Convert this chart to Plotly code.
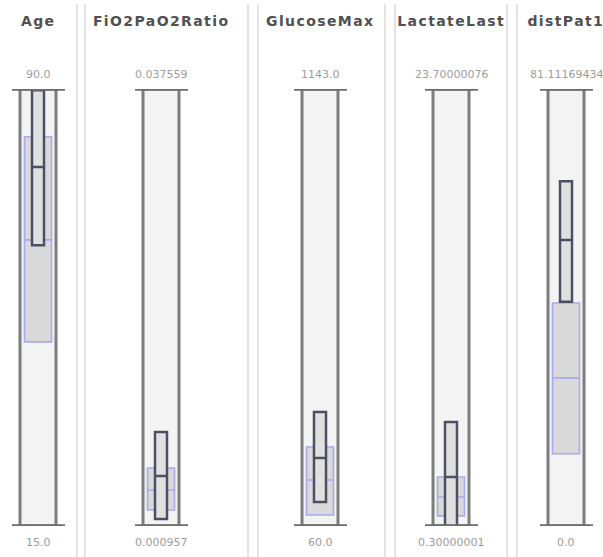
import json
import plotly.graph_objects as go

# ---------------- data ----------------
columns = ["Age", "FiO2PaO2Ratio", "GlucoseMax", "LactateLast", "distPat1"]
axis_min = [15.0, 0.000957, 60.0, 0.30000001, 0.0]
axis_max = [90.0, 0.037559, 1143.0, 23.70000076, 81.11169434]
min_labels = ["15.0", "0.000957", "60.0", "0.30000001", "0.0"]
max_labels = ["90.0", "0.037559", "1143.0", "23.70000076", "81.11169434"]

# whole-population box (blue outline)
pop_q1 = [46.6, 0.00230, 87.3, 0.84, 13.4]
pop_median = [64.1, 0.00397, 174.0, 1.85, 27.5]
pop_q3 = [81.8, 0.00582, 255.8, 2.92, 41.4]

# selected-subset box (dark outline)
sel_q1 = [63.2, 0.00154, 119.5, 0.30, 41.6]
sel_median = [76.6, 0.00515, 228.5, 2.92, 53.1]
sel_q3 = [89.8, 0.00883, 342.5, 5.87, 64.0]

# ---------------- layout constants (pixels) ----------------
W, H = 603, 557
centers = [38, 161, 320, 451, 566]
separators = [77, 85, 248, 258, 385, 395, 507, 517]
y_top_px, y_bot_px = 89, 526

fig = go.Figure()
shapes = []
annotations = []
layout_axes = {}

for i, col in enumerate(columns):
    yname = "y" if i == 0 else f"y{i+1}"
    laykey = "yaxis" if i == 0 else f"yaxis{i+1}"
    ax = dict(domain=[1 - y_bot_px / H, 1 - y_top_px / H],
              range=[axis_min[i], axis_max[i]], visible=False,
              fixedrange=True, showgrid=False, zeroline=False)
    if i > 0:
        ax.update(overlaying="y", anchor="x")
    layout_axes[laykey] = ax
    c = centers[i]

    # outer track
    shapes.append(dict(type="rect", xref="x", yref=yname,
                       x0=c - 18, x1=c + 18, y0=axis_min[i], y1=axis_max[i],
                       fillcolor="#f3f3f3", line=dict(color="#7d7d7d", width=3),
                       layer="below"))
    # caps
    for v in (axis_min[i], axis_max[i]):
        shapes.append(dict(type="line", xref="x", yref=yname,
                           x0=c - 26, x1=c + 27, y0=v, y1=v,
                           line=dict(color="#6c6c6c", width=3.5), layer="above"))

    # population box
    fig.add_trace(go.Box(
        x=[c], q1=[pop_q1[i]], median=[pop_median[i]], q3=[pop_q3[i]],
        lowerfence=[pop_q1[i]], upperfence=[pop_q3[i]],
        orientation="v", width=27, whiskerwidth=0, boxpoints=False,
        fillcolor="#d9d9d9", line=dict(color="#a9a9ef", width=1.6),
        xaxis="x", yaxis=yname, showlegend=False, hoverinfo="skip"))
    # subset box
    fig.add_trace(go.Box(
        x=[c], q1=[sel_q1[i]], median=[sel_median[i]], q3=[sel_q3[i]],
        lowerfence=[sel_q1[i]], upperfence=[sel_q3[i]],
        orientation="v", width=12, whiskerwidth=0, boxpoints=False,
        fillcolor="#e0e0e0", line=dict(color="#4f4f63", width=2.5),
        xaxis="x", yaxis=yname, showlegend=False, hoverinfo="skip"))

    # titles and value labels
    annotations.append(dict(text=col, x=c / W, y=1 - 21 / H, xref="paper", yref="paper",
                            showarrow=False, xanchor="center", yanchor="middle",
                            font=dict(family="DejaVu Sans", size=14, color="#505050",
                                      weight="bold")))
    annotations.append(dict(text=max_labels[i], x=c / W, y=1 - 75 / H, xref="paper",
                            yref="paper", showarrow=False, xanchor="center",
                            yanchor="middle",
                            font=dict(family="DejaVu Sans", size=11, color="#9c9c9c")))
    annotations.append(dict(text=min_labels[i], x=c / W, y=1 - 542 / H, xref="paper",
                            yref="paper", showarrow=False, xanchor="center",
                            yanchor="middle",
                            font=dict(family="DejaVu Sans", size=11, color="#9c9c9c")))

for sx in separators:
    shapes.append(dict(type="line", xref="paper", yref="paper",
                       x0=sx / W, x1=sx / W, y0=0, y1=1 - 4 / H,
                       line=dict(color="#c9c9c9", width=1)))

fig.update_layout(
    width=W, height=H, margin=dict(l=0, r=0, t=0, b=0),
    paper_bgcolor="white", plot_bgcolor="white",
    xaxis=dict(range=[0, W], domain=[0, 1], visible=False, fixedrange=True),
    boxmode="overlay", shapes=shapes, annotations=annotations,
    showlegend=False, **layout_axes)

post = """
document.body.style.margin = '0';
document.body.style.padding = '0';
document.body.style.overflow = 'hidden';
var gd = document.getElementById('{plot_id}');
var titles = %s;
gd.querySelectorAll('text.annotation-text').forEach(function(t){
  if (titles.indexOf(t.getAttribute('data-unformatted')) >= 0) { t.style.letterSpacing = '1.4px'; }
});
""" % json.dumps(columns)

fig.write_html("out.html", post_script=post, config={"displayModeBar": False})
